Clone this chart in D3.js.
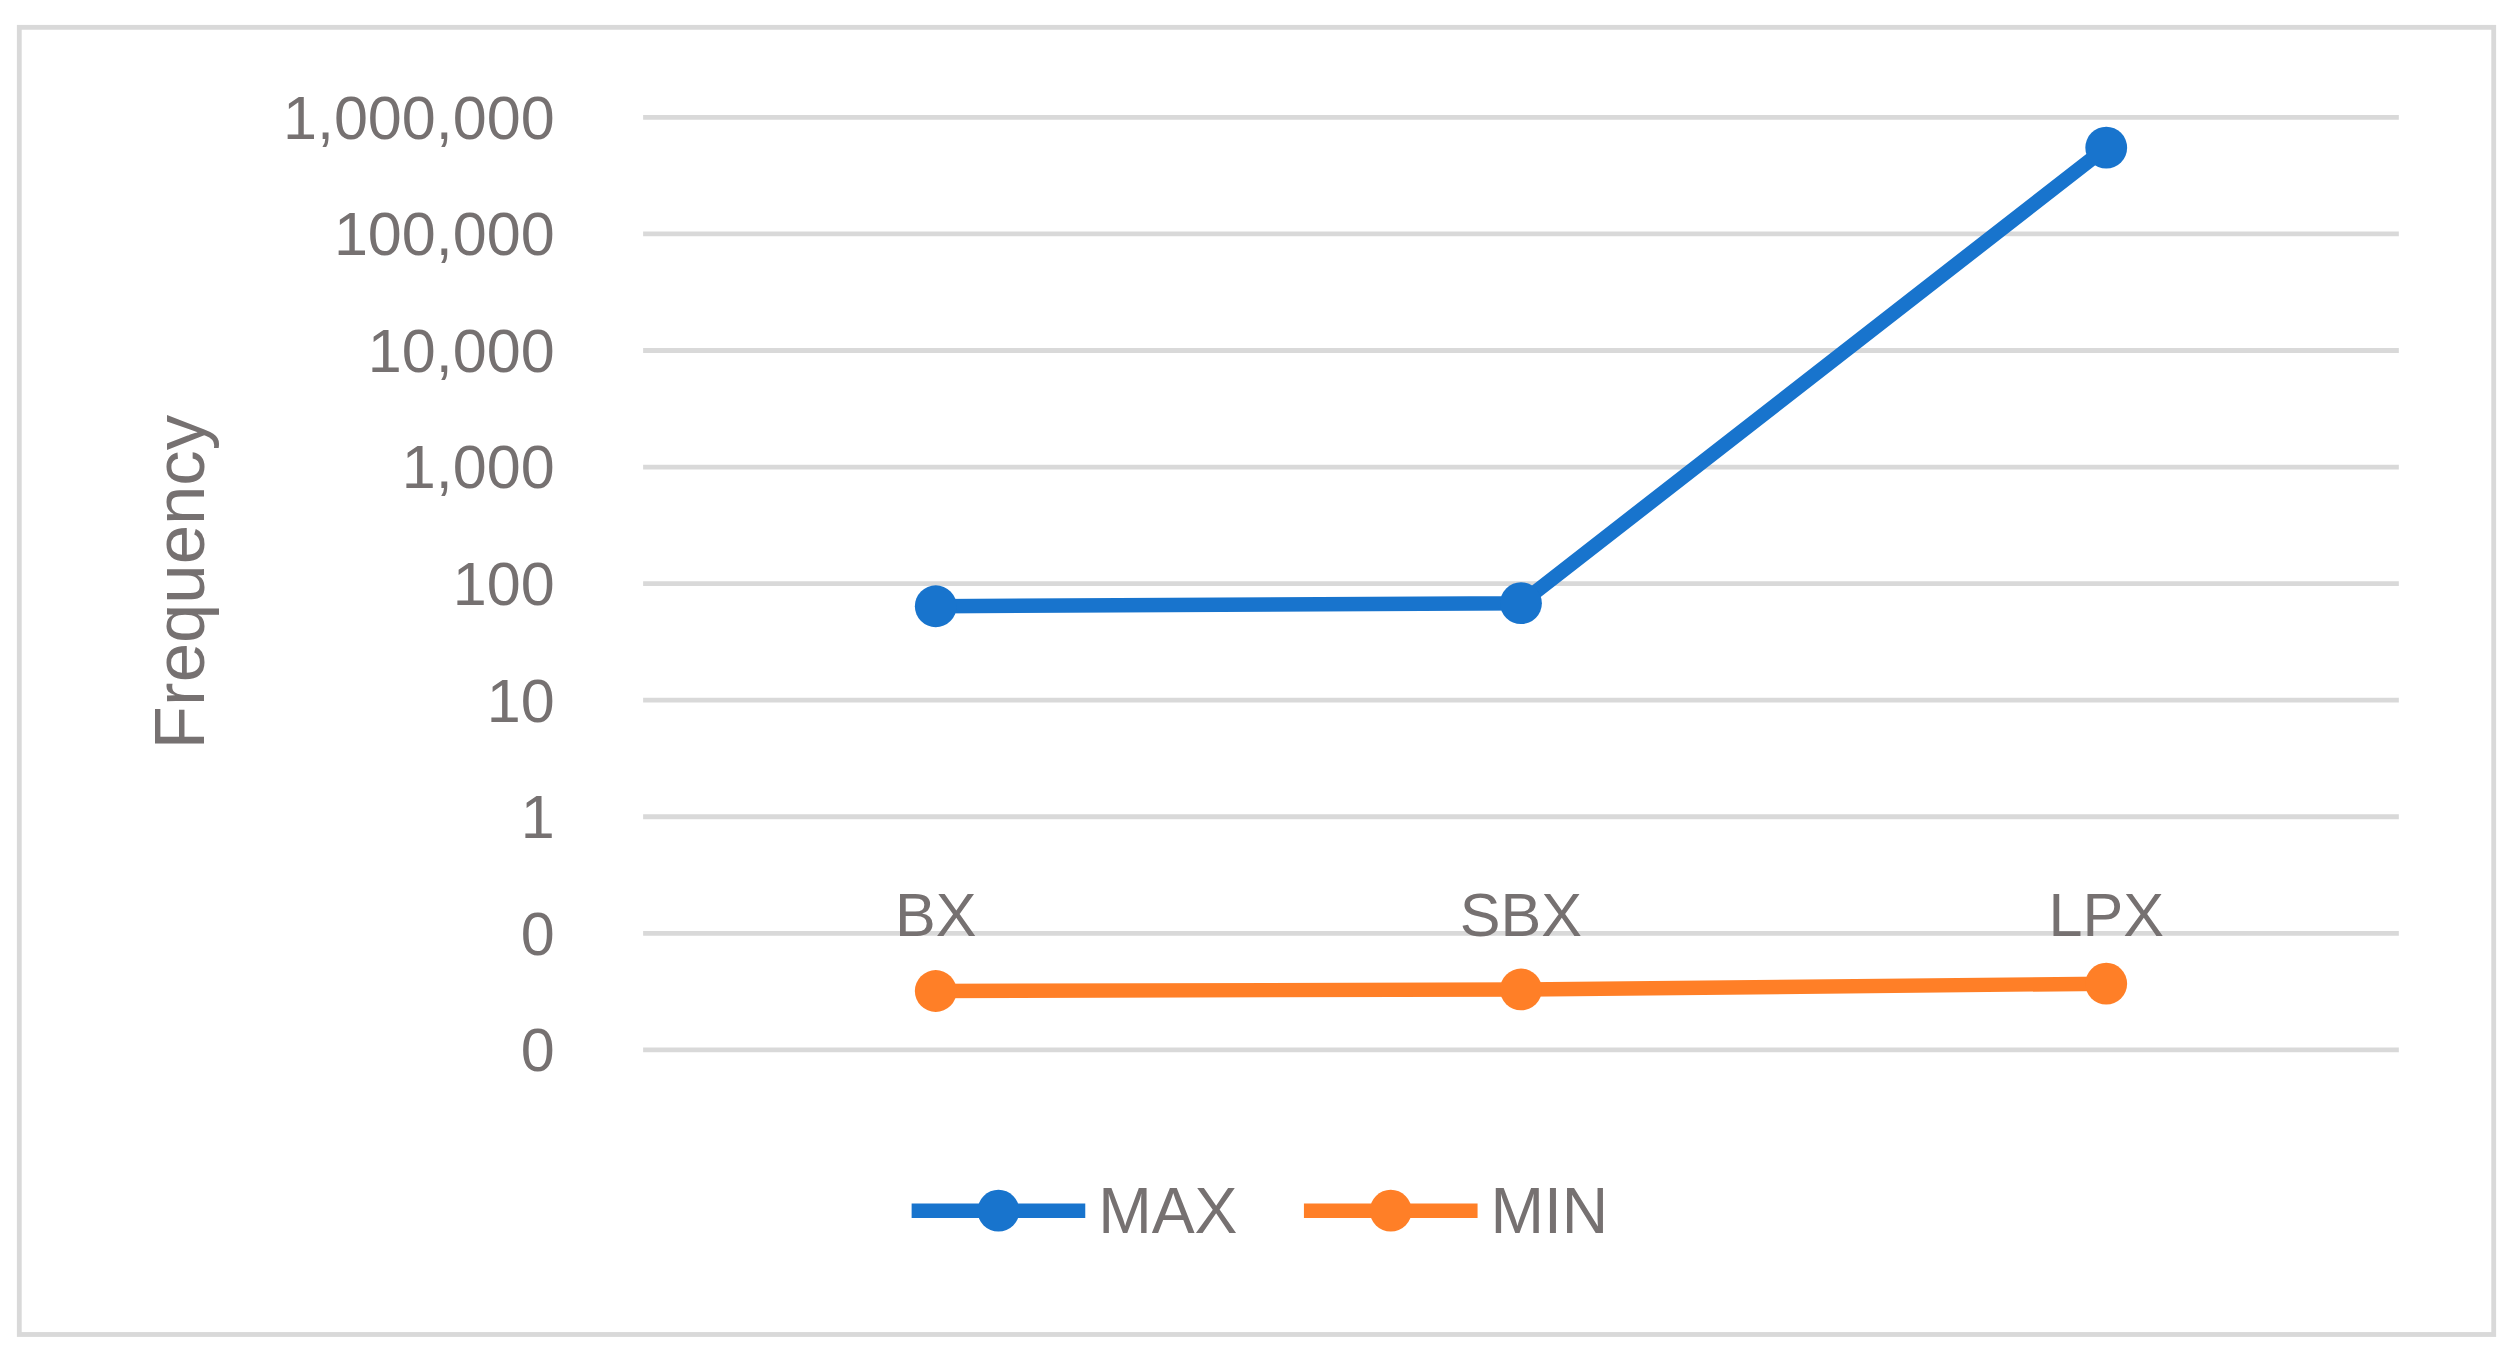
<!DOCTYPE html>
<html><head><meta charset="utf-8">
<script src="https://cdn.jsdelivr.net/npm/d3@7"></script>
<style>body{margin:0;background:#fff}text{font-family:"Liberation Sans Narrow","Liberation Sans",sans-serif;fill:#767171}</style>
</head><body><svg id="c"></svg>
<script>
var categories = ["BX", "SBX", "LPX"];
var maxValues = [64, 68, 550000];
var minValues = [0.032, 0.033, 0.037];
var tickValues = [0.01, 0.1, 1, 10, 100, 1000, 10000, 100000, 1000000];
var seriesNames = ["MAX", "MIN"];
var colors = ["#1874cd", "#ff7f27"];

var svg = d3.select("#c").attr("width", 2513).attr("height", 1357)
    .attr("viewBox", "0 0 1563 844");

svg.append("rect").attr("x", 12).attr("y", 17).attr("width", 1539).attr("height", 813)
    .attr("fill", "#fff").attr("stroke", "#d9d9d9").attr("stroke-width", 3);

var x = d3.scalePoint().domain(categories).range([400, 1492]).padding(0.5);
var y = d3.scaleLog().domain([0.01, 1000000]).range([653, 73]);
var fmt = d3.format(",.0f");

// gridlines
svg.selectAll(".grid").data(tickValues).enter().append("line")
    .attr("x1", 400).attr("x2", 1492)
    .attr("y1", function (d) { return y(d); }).attr("y2", function (d) { return y(d); })
    .attr("stroke", "#d9d9d9").attr("stroke-width", 3);

svg.selectAll(".ytick").data(tickValues).enter().append("text")
    .attr("x", 345).attr("y", function (d) { return y(d); }).attr("dy", "0.35em")
    .attr("text-anchor", "end").style("font-size", "38px")
    .text(function (d) { return fmt(d); });

svg.selectAll(".xtick").data(categories).enter().append("text")
    .attr("x", function (d) { return x(d); }).attr("y", 582)
    .attr("text-anchor", "middle").style("font-size", "38px")
    .text(function (d) { return d; });

svg.append("text").attr("transform", "translate(127,362) rotate(-90)")
    .attr("text-anchor", "middle").style("font-size", "44px").text("Frequency");

var line = d3.line().x(function (d, i) { return x(categories[i]); }).y(function (d) { return y(d); });
[maxValues, minValues].forEach(function (vals, k) {
    svg.append("path").datum(vals).attr("d", line).attr("fill", "none")
        .attr("stroke", colors[k]).attr("stroke-width", 9);
    svg.selectAll(".pt" + k).data(vals).enter().append("circle")
        .attr("cx", function (d, i) { return x(categories[i]); })
        .attr("cy", function (d) { return y(d); })
        .attr("r", 13).attr("fill", colors[k]);
});

// legend
var legendX = [567, 811];
seriesNames.forEach(function (name, k) {
    var g = svg.append("g").attr("transform", "translate(" + legendX[k] + ",753)");
    g.append("line").attr("x1", 0).attr("x2", 108).attr("stroke", colors[k]).attr("stroke-width", 9);
    g.append("circle").attr("cx", 54).attr("r", 13).attr("fill", colors[k]);
    g.append("text").attr("x", 116).attr("dy", "0.35em").style("font-size", "40px").text(name);
});
</script></body></html>
